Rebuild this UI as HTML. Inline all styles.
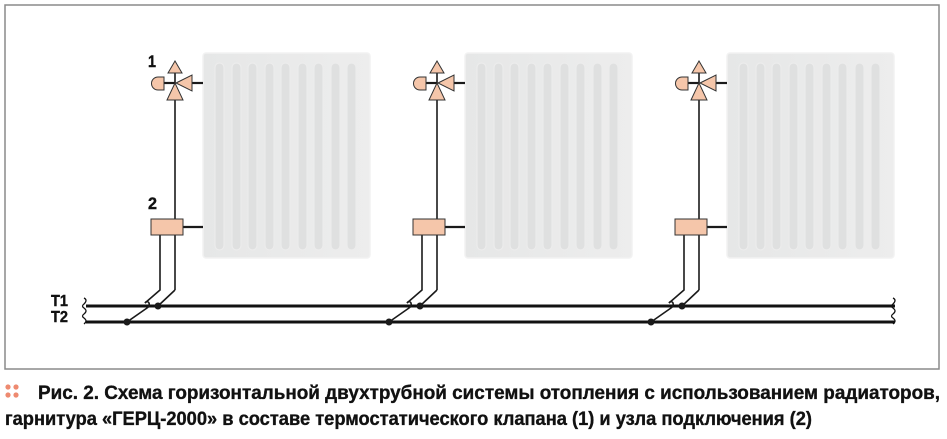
<!DOCTYPE html>
<html><head><meta charset="utf-8"><style>
html,body{margin:0;padding:0;background:#fff;}
svg{display:block;}
</style></head><body>
<svg width="947" height="439" viewBox="0 0 947 439" xmlns="http://www.w3.org/2000/svg">
<defs>
<linearGradient id="rg" x1="0" y1="0" x2="1" y2="0">
<stop offset="0" stop-color="#e6e7e7"/><stop offset="1" stop-color="#ededed"/>
</linearGradient>
<g id="unit">
  <rect x="203" y="53" width="167" height="205" rx="3" fill="url(#rg)" stroke="#f2f2f2" stroke-width="1.5"/>
  <g fill="#dfe0e0" stroke="#ececec" stroke-width="1.2">
    <rect x="215" y="63" width="9" height="187" rx="4.5"/>
    <rect x="232" y="63" width="9" height="187" rx="4.5"/>
    <rect x="248" y="63" width="9" height="187" rx="4.5"/>
    <rect x="265" y="63" width="9" height="187" rx="4.5"/>
    <rect x="281" y="63" width="9" height="187" rx="4.5"/>
    <rect x="298" y="63" width="9" height="187" rx="4.5"/>
    <rect x="314" y="63" width="9" height="187" rx="4.5"/>
    <rect x="331" y="63" width="9" height="187" rx="4.5"/>
    <rect x="347" y="63" width="9" height="187" rx="4.5"/>
  </g>
  <g stroke="#1a1a1a" stroke-width="1.6" fill="none">
    <line x1="175" y1="70" x2="175" y2="290"/>
    <polyline points="175,290 158,306"/>
    <polyline points="160,235 160,290 145,303"/>
    <path d="M145,303 q2,-3 4,0 q1,3 -2,5 L127,322"/>
  </g>
  <g stroke="#1a1a1a" stroke-width="2.2">
    <line x1="164" y1="83" x2="175" y2="83"/>
    <line x1="190" y1="83" x2="203" y2="83"/>
    <line x1="183" y1="227" x2="203" y2="227"/>
  </g>
  <circle cx="158" cy="306" r="3.5" fill="#1a1a1a"/>
  <circle cx="127" cy="322" r="3.5" fill="#1a1a1a"/>
  <g fill="#f5c6aa" stroke="#333" stroke-width="1">
    <polygon points="175,61 168,73 182,73"/>
    <path d="M164,77 L158,77 A6.5,6.5 0 0 0 158,90 L164,90 Z"/>
    <polygon points="176,83 192,75 192,91"/>
    <polygon points="175,83 167,100 183,100"/>
    <rect x="151" y="219" width="32" height="16"/>
  </g>
</g>
</defs>
<rect x="5" y="5" width="934" height="364" fill="#fff" stroke="#8a8a8a" stroke-width="1.5"/>
<line x1="86" y1="306" x2="895" y2="306" stroke="#111" stroke-width="3"/>
<line x1="86" y1="322" x2="895" y2="322" stroke="#111" stroke-width="3"/>
<g stroke="#111" stroke-width="1.3" fill="none">
  <path d="M84,298 q4,2 0,6 q-3,2 0,4 q4,3 0,6 q-3,2 0,4 q4,3 0,6"/>
  <path d="M893,298 q4,2 0,6 q-3,2 0,4 q4,3 0,6 q-3,2 0,4 q4,3 0,6"/>
</g>
<use href="#unit"/>
<use href="#unit" transform="translate(262,0)"/>
<use href="#unit" transform="translate(524,0)"/>
<g font-family="Liberation Sans, sans-serif" font-weight="bold" fill="#111" stroke="#111" stroke-width="0.4">
  <text x="148" y="67" font-size="17" textLength="8" lengthAdjust="spacingAndGlyphs">1</text>
  <text x="148" y="209" font-size="17" textLength="9" lengthAdjust="spacingAndGlyphs">2</text>
  <text x="51" y="306" font-size="16" textLength="17" lengthAdjust="spacingAndGlyphs">T1</text>
  <text x="51" y="322" font-size="16" textLength="17" lengthAdjust="spacingAndGlyphs">T2</text>
</g>
<g fill="#ee8a70">
  <circle cx="8" cy="387" r="2.6"/><circle cx="16" cy="387" r="2.6"/>
  <circle cx="8" cy="395" r="2.6"/><circle cx="16" cy="395" r="2.6"/>
</g>
<g font-family="Liberation Sans, sans-serif" font-weight="bold" font-size="19" fill="#111" stroke="#111" stroke-width="0.35">
  <text x="38" y="399" textLength="902" lengthAdjust="spacingAndGlyphs">Рис. 2. Схема горизонтальной двухтрубной системы отопления с использованием радиаторов,</text>
  <text x="5" y="425" textLength="807" lengthAdjust="spacingAndGlyphs">гарнитура «ГЕРЦ-2000» в составе термостатического клапана (1) и узла подключения (2)</text>
</g>
</svg>
</body></html>
